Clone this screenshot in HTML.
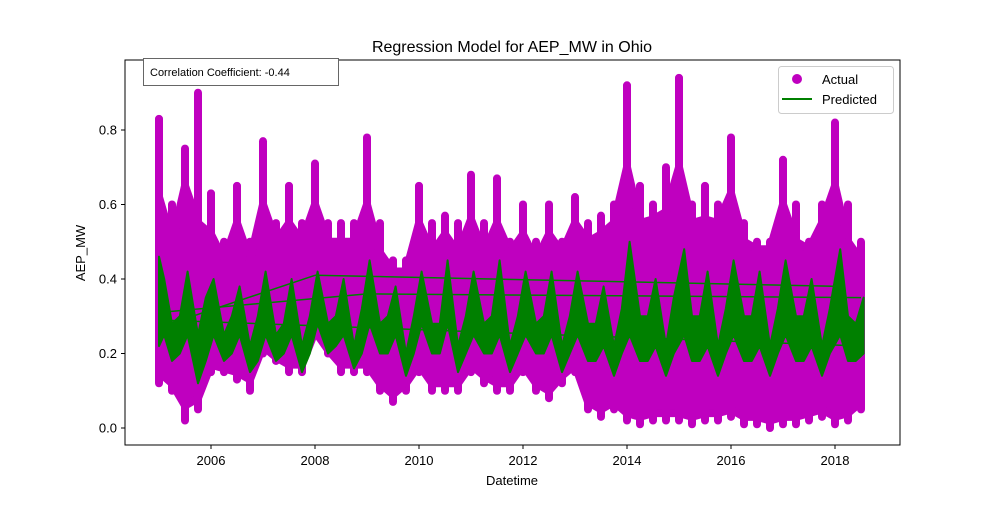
<!DOCTYPE html>
<html><head><meta charset="utf-8"><style>
body{margin:0;background:#fff;font-family:"Liberation Sans","DejaVu Sans",sans-serif}
svg text{font-family:"Liberation Sans","DejaVu Sans",sans-serif}
</style></head><body>
<svg width="1000" height="500" viewBox="0 0 1000 500">
<rect width="1000" height="500" fill="#fff"/>
<g id="plot"></g>
<rect x="125" y="60" width="775" height="385" fill="none" stroke="#000" stroke-width="1"/>
<g id="axes"></g>
<text x="512" y="52" font-size="16" text-anchor="middle">Regression Model for AEP_MW in Ohio</text>
<text x="512" y="485" font-size="13" text-anchor="middle">Datetime</text>
<text x="85" y="253" font-size="13" text-anchor="middle" transform="rotate(-90 85 253)">AEP_MW</text>
<g>
<rect x="143.5" y="58.5" width="195" height="27" fill="#fff" stroke="#666"/>
<text x="150" y="76" font-size="11">Correlation Coefficient: -0.44</text>
</g>
<g>
<rect x="778.5" y="66.5" width="115" height="47" rx="3" fill="#fff" stroke="#ccc"/>
<circle cx="797" cy="79" r="5" fill="#bf00bf"/>
<text x="822" y="84" font-size="13">Actual</text>
<line x1="782" y1="99" x2="812" y2="99" stroke="#008000" stroke-width="2"/>
<text x="822" y="104" font-size="13">Predicted</text>
</g>
</svg>
<script>
const periods=[2005,2005.25,2005.5,2005.75,2006,2006.25,2006.5,2006.75,2007,2007.25,2007.5,2007.75,2008,2008.25,2008.5,2008.75,2009,2009.25,2009.5,2009.75,2010,2010.25,2010.5,2010.75,2011,2011.25,2011.5,2011.75,2012,2012.25,2012.5,2012.75,2013,2013.25,2013.5,2013.75,2014,2014.25,2014.5,2014.75,2015,2015.25,2015.5,2015.75,2016,2016.25,2016.5,2016.75,2017,2017.25,2017.5,2017.75,2018,2018.25,2018.5];
const actualHigh=[0.83,0.6,0.75,0.9,0.63,0.5,0.65,0.5,0.77,0.55,0.65,0.55,0.71,0.55,0.55,0.55,0.78,0.55,0.45,0.45,0.65,0.55,0.57,0.55,0.68,0.55,0.67,0.5,0.6,0.5,0.6,0.5,0.62,0.55,0.57,0.6,0.92,0.65,0.6,0.7,0.94,0.6,0.65,0.6,0.78,0.55,0.5,0.5,0.72,0.6,0.5,0.6,0.82,0.6,0.5];
const actualLow=[0.12,0.1,0.02,0.05,0.15,0.15,0.13,0.1,0.2,0.18,0.15,0.15,0.25,0.2,0.15,0.15,0.15,0.1,0.07,0.1,0.15,0.1,0.1,0.1,0.15,0.12,0.1,0.1,0.15,0.1,0.08,0.12,0.15,0.05,0.03,0.05,0.02,0.01,0.02,0.02,0.02,0.01,0.02,0.02,0.03,0.01,0.01,0.0,0.01,0.01,0.02,0.03,0.01,0.02,0.05];
const coreHigh=[0.62,0.5,0.65,0.55,0.52,0.45,0.55,0.45,0.6,0.5,0.55,0.5,0.6,0.5,0.5,0.5,0.6,0.47,0.42,0.42,0.55,0.47,0.52,0.47,0.56,0.47,0.55,0.47,0.52,0.45,0.52,0.47,0.55,0.5,0.52,0.55,0.7,0.55,0.56,0.58,0.7,0.55,0.56,0.55,0.63,0.5,0.48,0.48,0.6,0.5,0.48,0.55,0.65,0.5,0.45];
const coreLow=[0.15,0.12,0.06,0.08,0.17,0.16,0.15,0.13,0.22,0.19,0.17,0.17,0.26,0.21,0.17,0.17,0.17,0.12,0.09,0.12,0.17,0.12,0.12,0.12,0.17,0.14,0.12,0.12,0.17,0.12,0.1,0.14,0.17,0.07,0.05,0.07,0.04,0.03,0.04,0.04,0.04,0.03,0.04,0.04,0.05,0.03,0.03,0.02,0.03,0.03,0.04,0.05,0.03,0.04,0.07];
const predTimes=[2005,2005.1,2005.25,2005.4,2005.55,2005.75,2005.9,2006.05,2006.25,2006.4,2006.55,2006.75,2006.9,2007.05,2007.25,2007.4,2007.55,2007.75,2007.9,2008.05,2008.25,2008.4,2008.55,2008.75,2008.9,2009.05,2009.25,2009.4,2009.55,2009.75,2009.9,2010.05,2010.25,2010.4,2010.55,2010.75,2010.9,2011.05,2011.25,2011.4,2011.55,2011.75,2011.9,2012.05,2012.25,2012.4,2012.55,2012.75,2012.9,2013.05,2013.25,2013.4,2013.55,2013.75,2013.9,2014.05,2014.25,2014.4,2014.55,2014.75,2014.9,2015.1,2015.25,2015.4,2015.55,2015.75,2015.9,2016.05,2016.25,2016.4,2016.55,2016.75,2016.9,2017.05,2017.25,2017.4,2017.55,2017.75,2017.9,2018.1,2018.25,2018.4,2018.55];
const predHigh=[0.46,0.4,0.28,0.3,0.42,0.25,0.35,0.4,0.25,0.3,0.38,0.22,0.3,0.42,0.25,0.28,0.4,0.22,0.3,0.42,0.28,0.3,0.4,0.22,0.32,0.45,0.28,0.3,0.38,0.2,0.3,0.42,0.28,0.28,0.45,0.22,0.3,0.42,0.28,0.3,0.45,0.22,0.3,0.42,0.28,0.3,0.42,0.22,0.3,0.42,0.28,0.28,0.38,0.22,0.32,0.5,0.3,0.3,0.4,0.22,0.35,0.48,0.3,0.3,0.42,0.22,0.32,0.45,0.3,0.3,0.42,0.22,0.32,0.45,0.3,0.3,0.4,0.22,0.32,0.48,0.3,0.28,0.35];
const predLow=[0.22,0.25,0.18,0.2,0.25,0.12,0.18,0.25,0.18,0.2,0.25,0.15,0.18,0.25,0.18,0.2,0.25,0.15,0.2,0.28,0.2,0.22,0.25,0.16,0.2,0.28,0.2,0.2,0.25,0.14,0.2,0.28,0.2,0.2,0.28,0.15,0.2,0.25,0.2,0.2,0.25,0.15,0.2,0.25,0.2,0.2,0.25,0.15,0.2,0.25,0.18,0.18,0.22,0.14,0.2,0.25,0.18,0.18,0.22,0.14,0.2,0.25,0.18,0.18,0.22,0.14,0.2,0.25,0.18,0.18,0.22,0.14,0.2,0.25,0.18,0.18,0.22,0.14,0.2,0.25,0.18,0.18,0.2];
const trendFromX=[2005,2005,2008,2005,2009];
const trendFromY=[0.27,0.29,0.41,0.31,0.36];
const trendToX=[2008,2018.5,2018.2,2009,2018.5];
const trendToY=[0.41,0.22,0.38,0.36,0.35];
const xTicks=[2006,2008,2010,2012,2014,2016,2018];
const yTicks=[0.0,0.2,0.4,0.6,0.8];

const NS="http://www.w3.org/2000/svg";
const X=t=>211+(t-2006)*52;
const Y=v=>428-372.5*v;
const plot=document.getElementById('plot'),axes=document.getElementById('axes');
function mk(tag,attrs,parent){const e=document.createElementNS(NS,tag);for(const k in attrs)e.setAttribute(k,attrs[k]);parent.appendChild(e);return e;}
const M='#bf00bf';
periods.forEach((t,i)=>{
  const x=X(t);
  const s=mk('line',{x1:x,x2:x,y1:Y(actualHigh[i]),y2:Y(actualLow[i]),stroke:M,'stroke-width':8,'stroke-linecap':'round'},plot);
  
  
  if(i<periods.length-1){
    const x2=X(periods[i+1]);
    const p=mk('polygon',{points:`${x},${Y(coreHigh[i])} ${x2},${Y(coreHigh[i+1])} ${x2},${Y(coreLow[i+1])} ${x},${Y(coreLow[i])}`,fill:M,stroke:M,'stroke-width':8,'stroke-linejoin':'round'},plot);
    
    
  }
});
trendFromX.forEach((t,i)=>{
  const l=mk('line',{x1:X(t),y1:Y(trendFromY[i]),x2:X(trendToX[i]),y2:Y(trendToY[i]),stroke:'#008000','stroke-width':1.5},plot);
  
  
});
let d='';
predTimes.forEach((t,i)=>{d+=(i?'L':'M')+X(t)+','+Y(predHigh[i]);});
for(let i=predTimes.length-1;i>=0;i--)d+='L'+X(predTimes[i])+','+Y(predLow[i]);
const band=mk('path',{d:d+'Z',fill:'#008000',stroke:'#008000','stroke-width':2,'stroke-linejoin':'round'},plot);


xTicks.forEach(t=>{
  const x=X(t);
  const tk=mk('line',{x1:x,x2:x,y1:445,y2:449,stroke:'#000'},axes);
  
  
  const tx=mk('text',{x:x,y:465,'font-size':13,'text-anchor':'middle'},axes);
  tx.textContent=t;
  
  
});
yTicks.forEach(v=>{
  const y=Y(v);
  const tk=mk('line',{x1:121,x2:125,y1:y,y2:y,stroke:'#000'},axes);
  
  
  const tx=mk('text',{x:117,y:y+4.5,'font-size':13,'text-anchor':'end'},axes);
  tx.textContent=v.toFixed(1);
  
  
});
</script>
</body></html>
